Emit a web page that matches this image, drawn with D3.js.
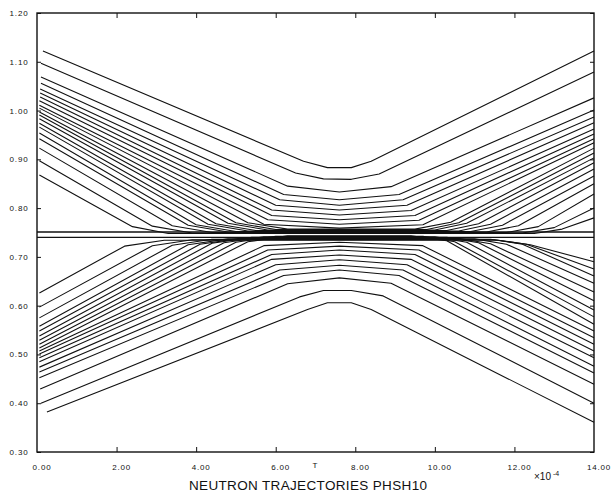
<!DOCTYPE html>
<html>
<head>
<meta charset="utf-8">
<script src="https://cdn.jsdelivr.net/npm/d3@7"></script>
<style>
  body { margin: 0; background: #fff; }
  svg { display: block; }
  text { font-family: "Liberation Sans", Arial, sans-serif; fill: #111; }
</style>
</head>
<body>
<svg id="chart" width="612" height="497"></svg>
<script>
// Tick values and labels (T in units of 1e-4)
const xTicks = [0, 2, 4, 6, 8, 10, 12, 14];
const xTickLabels = ["0.00", "2.00", "4.00", "6.00", "8.00", "10.00", "12.00", "14.00"];
const yTicks = [0.3, 0.4, 0.5, 0.6, 0.7, 0.8, 0.9, 1.0, 1.1, 1.2];
const yTickLabels = ["0.30", "0.40", "0.50", "0.60", "0.70", "0.80", "0.90", "1.00", "1.10", "1.20"];

// Trajectories above the axis, outermost first: [T, y] points
const upperTrajectories = [
  [[0.15, 1.122], [6.7, 0.896], [7.3, 0.883], [7.9, 0.883], [8.4, 0.896], [14, 1.122]],
  [[0.10, 1.097], [6.5, 0.872], [7.2, 0.860], [7.9, 0.859], [8.6, 0.870], [14, 1.079]],
  [[0.10, 1.069], [6.3, 0.845], [7.6, 0.833], [8.9, 0.844], [14, 1.026]],
  [[0.10, 1.056], [6.2, 0.828], [7.6, 0.817], [9.1, 0.828], [14, 1.001]],
  [[0.08, 1.044], [6.1, 0.817], [7.6, 0.806], [9.2, 0.817], [14, 0.987]],
  [[0.08, 1.036], [6.0, 0.806], [7.6, 0.796], [9.3, 0.806], [14, 0.975]],
  [[0.08, 1.028], [5.9, 0.796], [7.6, 0.786], [9.4, 0.795], [14, 0.962]],
  [[0.06, 1.020], [5.9, 0.785], [7.6, 0.776], [9.5, 0.785], [14, 0.952]],
  [[0.06, 1.011], [5.8, 0.776], [7.6, 0.767], [9.6, 0.775], [14, 0.942]],
  [[0.06, 1.005], [5.7, 0.767], [7.6, 0.759], [9.7, 0.766], [14, 0.934]],
  [[0.06, 0.997], [5.3, 0.770], [6.3, 0.757], [9.5, 0.757], [10.4, 0.771], [14, 0.923]],
  [[0.06, 0.991], [5.0, 0.770], [6.0, 0.756], [9.8, 0.756], [10.6, 0.770], [14, 0.913]],
  [[0.06, 0.983], [4.8, 0.769], [5.8, 0.755], [10.0, 0.755], [10.8, 0.769], [14, 0.903]],
  [[0.06, 0.974], [4.5, 0.768], [5.5, 0.754], [10.3, 0.754], [11.1, 0.768], [14, 0.893]],
  [[0.06, 0.966], [4.3, 0.767], [5.3, 0.753], [10.6, 0.753], [11.4, 0.767], [14, 0.880]],
  [[0.06, 0.954], [4.0, 0.766], [5.0, 0.752], [10.9, 0.752], [11.7, 0.765], [14, 0.866]],
  [[0.06, 0.942], [3.8, 0.765], [4.8, 0.751], [11.3, 0.751], [12.1, 0.764], [14, 0.850]],
  [[0.06, 0.923], [3.4, 0.764], [4.4, 0.750], [11.8, 0.750], [12.6, 0.762], [14, 0.829]],
  [[0.06, 0.897], [2.9, 0.763], [3.9, 0.749], [12.2, 0.749], [13.0, 0.760], [14, 0.800]],
  [[0.06, 0.868], [2.4, 0.762], [3.3, 0.748], [12.5, 0.748], [13.2, 0.757], [14, 0.780]]
];

// Trajectories below the axis, outermost first
const lowerTrajectories = [
  [[0.25, 0.382], [6.8, 0.592], [7.3, 0.606], [7.9, 0.606], [8.4, 0.592], [14, 0.361]],
  [[0.10, 0.400], [6.6, 0.618], [7.2, 0.631], [7.9, 0.631], [8.7, 0.620], [14, 0.400]],
  [[0.08, 0.429], [6.3, 0.645], [7.6, 0.657], [8.9, 0.646], [14, 0.439]],
  [[0.06, 0.452], [6.2, 0.662], [7.6, 0.673], [9.1, 0.662], [14, 0.462]],
  [[0.06, 0.464], [6.1, 0.673], [7.6, 0.683], [9.2, 0.673], [14, 0.476]],
  [[0.06, 0.474], [6.0, 0.684], [7.6, 0.694], [9.3, 0.684], [14, 0.493]],
  [[0.06, 0.485], [5.9, 0.695], [7.6, 0.704], [9.4, 0.695], [14, 0.507]],
  [[0.06, 0.493], [5.9, 0.705], [7.6, 0.714], [9.5, 0.705], [14, 0.521]],
  [[0.06, 0.501], [5.8, 0.714], [7.6, 0.722], [9.6, 0.714], [14, 0.534]],
  [[0.06, 0.507], [5.7, 0.723], [7.6, 0.730], [9.7, 0.723], [14, 0.548]],
  [[0.06, 0.513], [5.3, 0.731], [6.3, 0.743], [9.4, 0.743], [10.3, 0.733], [14, 0.562]],
  [[0.06, 0.521], [5.0, 0.730], [6.0, 0.742], [9.7, 0.742], [10.5, 0.731], [14, 0.577]],
  [[0.06, 0.529], [4.7, 0.729], [5.7, 0.741], [10.0, 0.741], [10.8, 0.730], [14, 0.591]],
  [[0.06, 0.538], [4.4, 0.728], [5.4, 0.740], [10.3, 0.740], [11.1, 0.729], [14, 0.610]],
  [[0.06, 0.548], [4.1, 0.726], [5.1, 0.738], [10.6, 0.738], [11.4, 0.727], [14, 0.628]],
  [[0.06, 0.558], [3.8, 0.725], [4.8, 0.737], [11.0, 0.737], [11.8, 0.726], [14, 0.646]],
  [[0.06, 0.575], [3.4, 0.724], [4.4, 0.736], [11.4, 0.736], [12.2, 0.726], [14, 0.661]],
  [[0.06, 0.597], [2.9, 0.723], [3.9, 0.735], [11.5, 0.735], [12.3, 0.726], [14, 0.675]],
  [[0.06, 0.626], [2.2, 0.722], [3.2, 0.734], [11.6, 0.734], [12.4, 0.725], [14, 0.690]]
];

// The two straight lines running the whole width
const straightLines = [
  [[0, 0.751], [14, 0.751]],
  [[0, 0.740], [14, 0.740]]
];

const svg = d3.select("#chart");
const frame = { left: 37, right: 594, top: 13, bottom: 452 };

const x = d3.scaleLinear().domain([0, 14]).range([frame.left, frame.right]);
const y = d3.scaleLinear().domain([0.3, 1.2]).range([frame.bottom, frame.top]);

const line = d3.line().x(d => x(d[0])).y(d => y(d[1]));

// Trajectories
const traj = svg.append("g").attr("fill", "none").attr("stroke", "#111")
  .attr("stroke-width", 1.1).attr("stroke-linejoin", "round");
traj.selectAll("path.upper").data(upperTrajectories).enter()
  .append("path").attr("class", "upper").attr("d", line);
traj.selectAll("path.lower").data(lowerTrajectories).enter()
  .append("path").attr("class", "lower").attr("d", line);
traj.selectAll("path.straight").data(straightLines).enter()
  .append("path").attr("class", "straight").attr("stroke-width", 1.3).attr("d", line);

// Inward ticks on all four sides, no default labels
const innerX = xTicks.slice(1, -1);
svg.append("g").attr("transform", `translate(0,${frame.bottom})`)
  .call(d3.axisTop(x).tickValues(innerX).tickSizeInner(5).tickSizeOuter(0).tickFormat(""));
svg.append("g").attr("transform", `translate(0,${frame.top})`)
  .call(d3.axisBottom(x).tickValues(innerX).tickSizeInner(5).tickSizeOuter(0).tickFormat(""));
svg.append("g").attr("transform", `translate(${frame.left},0)`)
  .call(d3.axisRight(y).tickValues(yTicks).tickSizeInner(4).tickSizeOuter(0).tickFormat(""));
svg.append("g").attr("transform", `translate(${frame.right},0)`)
  .call(d3.axisLeft(y).tickValues(yTicks).tickSizeInner(4).tickSizeOuter(0).tickFormat(""));
svg.selectAll(".domain").remove();
svg.selectAll(".tick line").attr("stroke", "#111").attr("stroke-width", 1);

// Frame
svg.append("rect")
  .attr("x", frame.left).attr("y", frame.top)
  .attr("width", frame.right - frame.left).attr("height", frame.bottom - frame.top)
  .attr("fill", "none").attr("stroke", "#111").attr("stroke-width", 1.4);

// Tick labels
svg.append("g").selectAll("text").data(xTicks).enter()
  .append("text")
    .attr("x", d => x(d) + 5).attr("y", 470)
    .attr("text-anchor", "middle").attr("font-size", 8).attr("letter-spacing", 0.8)
    .text((d, i) => xTickLabels[i]);
svg.append("g").selectAll("text").data(yTicks).enter()
  .append("text")
    .attr("x", 19).attr("y", d => y(d) + 3)
    .attr("text-anchor", "middle").attr("font-size", 8).attr("letter-spacing", 0.8)
    .text((d, i) => yTickLabels[i]);

// Axis name, exponent and title
svg.append("text").attr("x", 315).attr("y", 468).attr("text-anchor", "middle")
  .attr("font-size", 8).style("fill", "#111").text("T");
const expo = svg.append("text").attr("x", 534).attr("y", 480).attr("font-size", 10);
expo.append("tspan").text("×10");
expo.append("tspan").attr("dy", -4).attr("dx", 2).attr("font-size", 7).text("-4");
svg.append("text")
  .attr("x", 308).attr("y", 490).attr("text-anchor", "middle").attr("font-size", 13.5)
  .attr("textLength", 238).attr("lengthAdjust", "spacing")
  .text("NEUTRON TRAJECTORIES PHSH10");
</script>
</body>
</html>
